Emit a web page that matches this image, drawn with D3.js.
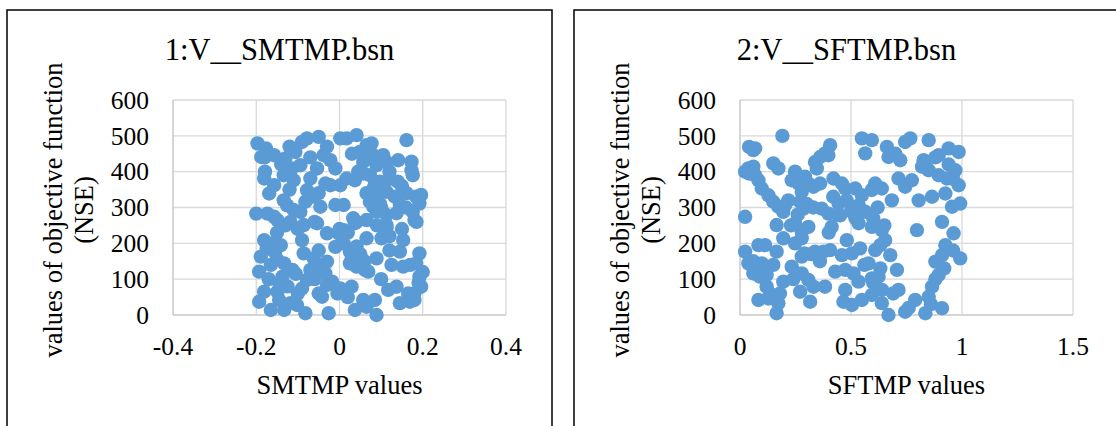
<!DOCTYPE html>
<html>
<head>
<meta charset="utf-8">
<script src="https://cdn.jsdelivr.net/npm/d3@7"></script>
<style>
  html, body { margin: 0; padding: 0; background: #fff; }
  svg text { font-family: "Liberation Serif", "Times New Roman", serif; fill: #000; }
</style>
</head>
<body>
<div id="chart"></div>
<script>
// ---- data ----
const nseTicks = [0, 100, 200, 300, 400, 500, 600];
const smtmpTicks = [-0.4, -0.2, 0, 0.2, 0.4];
const sftmpTicks = [0, 0.5, 1, 1.5];

const titles = ['1:V__SMTMP.bsn', '2:V__SFTMP.bsn'];
const xTitles = ['SMTMP values', 'SFTMP values'];
const yTitle = ['values of objective function', '(NSE)'];

// [parameter value, NSE]
const smtmpPoints = [
  [-0.197,479],[-0.177,465],[-0.188,441],[-0.157,446],[-0.130,437],[-0.179,400],[-0.181,381],[-0.157,362],
  [-0.169,339],[-0.134,320],[-0.126,306],[-0.200,283],[-0.173,283],[-0.157,274],[-0.110,293],[-0.094,288],
  [-0.106,455],[-0.090,483],[-0.078,493],[-0.050,497],[-0.134,390],[-0.114,409],[-0.110,376],[-0.094,418],
  [-0.070,381],[-0.078,348],[-0.082,316],[-0.066,330],[-0.054,409],[-0.038,446],[-0.022,432],[-0.010,409],
  [-0.046,302],[-0.034,367],[-0.022,362],[0.002,362],[0.017,381],[0.037,376],[-0.010,307],[0.010,307],
  [0.033,270],[0.041,260],[0.002,493],[0.017,493],[0.041,502],[0.049,455],[0.065,474],[0.077,479],
  [0.081,446],[0.057,427],[0.077,437],[0.089,418],[0.105,446],[0.113,427],[0.045,400],[0.057,395],
  [0.073,390],[0.161,488],[0.141,432],[0.173,428],[0.173,404],[0.176,390],[0.073,316],[0.081,302],
  [0.089,288],[0.097,311],[0.113,344],[0.133,330],[0.145,307],[0.161,340],[0.184,330],[0.196,335],
  [0.192,311],[0.176,288],[0.180,265],[0.137,284],[0.113,279],[0.085,365],[0.097,372],[0.120,380],
  [0.140,372],[0.150,360],[0.065,340],[0.080,350],[0.090,330],
  [-0.149,265],[-0.118,260],[-0.086,251],[-0.054,256],[0.037,256],[0.065,265],[0.113,251],[0.185,260],
  [-0.181,209],[-0.161,200],[-0.141,195],[-0.090,209],[-0.030,228],[-0.002,228],[0.010,237],[0.065,214],
  [0.041,191],[0.025,177],[0.101,214],[0.113,242],[0.153,209],[0.145,177],[0.192,172],[0.184,144],
  [-0.189,163],[-0.193,121],[-0.165,140],[-0.133,144],[-0.113,126],[-0.137,107],[-0.086,172],[-0.062,158],
  [-0.070,126],[-0.078,98],[-0.046,135],[-0.030,149],[-0.034,116],[0.025,144],[0.041,135],[0.061,126],
  [0.069,121],[0.089,158],[0.125,140],[0.153,135],[0.192,107],[0.196,79],[0.180,60],
  [-0.181,65],[-0.193,37],[-0.149,65],[-0.145,42],[-0.165,14],[-0.133,14],[-0.118,33],[-0.102,28],
  [-0.082,5],[-0.090,74],[-0.050,60],[-0.042,51],[-0.030,84],[-0.018,93],[-0.026,5],[0.002,74],
  [0.017,65],[0.029,79],[0.037,14],[0.057,42],[0.065,23],[0.085,42],[0.089,0],[0.117,70],
  [0.137,79],[0.145,33],[0.169,37],[0.180,42],
  [-0.175,185],[-0.155,175],[-0.150,155],[-0.170,100],[-0.145,90],[-0.125,80],[-0.105,115],[-0.100,60],
  [-0.060,100],[-0.050,180],[-0.010,190],[0.010,200],[0.030,160],[0.050,170],[0.060,150],[0.100,100],
  [0.120,180],[0.170,140],[0.200,120],[0.190,90],[0.165,60],[-0.005,60],[0.020,50],[-0.150,230],
  [-0.130,250],[-0.100,240],[-0.060,260],[0.000,240],[0.020,230],[0.090,250],[0.120,220],[0.150,240],
  [-0.120,470],[-0.140,420],[-0.070,440],[-0.030,470],[0.030,450],[0.120,400],[0.100,300],[0.160,300],
  [-0.120,350],[-0.050,340],[-0.180,440]
];

const sftmpPoints = [
  [0.191,500],[0.041,469],[0.068,465],[0.038,409],[0.060,414],[0.068,390],[0.023,400],[0.083,376],
  [0.098,353],[0.128,334],[0.150,316],[0.173,302],[0.150,423],[0.173,409],[0.248,400],[0.233,376],
  [0.263,367],[0.293,386],[0.308,367],[0.331,358],[0.361,367],[0.338,427],[0.361,441],[0.383,451],
  [0.406,474],[0.398,446],[0.346,409],[0.278,344],[0.271,316],[0.286,297],[0.218,320],[0.203,306],
  [0.195,288],[0.421,381],[0.459,367],[0.474,353],[0.368,297],[0.398,283],[0.444,311],[0.451,278],
  [0.519,353],[0.549,334],[0.534,306],[0.564,288],[0.594,349],[0.609,367],[0.639,353],[0.684,320],
  [0.549,493],[0.594,488],[0.564,451],[0.662,469],[0.669,441],[0.722,432],[0.744,483],[0.767,493],
  [0.850,488],[0.827,432],[0.820,414],[0.850,404],[0.895,446],[0.940,465],[0.985,455],[0.714,381],
  [0.744,358],[0.774,376],[0.895,390],[0.932,381],[0.970,404],[0.985,362],[0.925,339],[0.805,320],
  [0.865,330],[0.955,302],[0.992,311],[0.023,274],
  [0.165,251],[0.248,256],[0.308,246],[0.278,232],[0.413,246],[0.534,256],[0.594,246],[0.639,237],
  [0.654,209],[0.632,195],[0.797,237],[0.910,260],[0.962,228],[0.481,209],
  [0.023,177],[0.083,195],[0.113,195],[0.165,177],[0.195,214],[0.248,200],[0.278,214],[0.338,177],
  [0.376,177],[0.406,181],[0.459,167],[0.504,172],[0.541,186],[0.609,181],[0.677,167],[0.278,163],
  [0.038,144],[0.060,116],[0.098,144],[0.150,140],[0.120,112],[0.233,135],[0.278,116],[0.308,98],
  [0.195,93],[0.331,79],[0.383,79],[0.271,65],[0.316,37],[0.429,121],[0.474,126],[0.511,116],
  [0.534,93],[0.579,144],[0.594,102],[0.632,130],[0.624,107],[0.707,126],[0.880,149],[0.925,195],
  [0.895,112],[0.865,79],[0.850,51],[0.910,167],[0.992,158],[0.083,42],[0.128,46],[0.173,33],
  [0.165,5],[0.474,70],[0.466,37],[0.504,28],[0.549,42],[0.594,56],[0.639,33],[0.669,0],
  [0.714,70],[0.744,9],[0.789,42],[0.835,5],[0.910,19],
  [0.060,150],[0.090,107],[0.120,79],[0.135,60],[0.290,172],[0.320,170],[0.230,250],[0.260,280],
  [0.300,310],[0.330,300],[0.420,330],[0.480,320],[0.500,290],[0.520,270],[0.600,270],[0.620,300],
  [0.650,250],[0.560,140],[0.600,90],[0.640,70],[0.690,60],[0.760,20],[0.880,100],[0.920,130],
  [0.960,180],[0.940,420],[0.960,380],[0.880,440],[0.840,410],[0.180,60],[0.240,100],[0.360,150],
  [0.400,230],[0.440,280],[0.700,450],[0.860,30],[0.060,460],[0.040,395]
];

// ---- layout ----
const W = 1116, H = 426;
const panelW = 545;
const panels = [
  { left: 7,   title: titles[0], xTitle: xTitles[0], ticks: smtmpTicks, domain: [-0.4, 0.4], points: smtmpPoints },
  { left: 574, title: titles[1], xTitle: xTitles[1], ticks: sftmpTicks, domain: [0, 1.5],   points: sftmpPoints }
];
const plot = { left: 166, width: 333, top: 100, bottom: 315 };
const dotColor = '#5b9bd5';

const svg = d3.select('#chart').append('svg')
  .attr('width', W)
  .attr('height', H);

panels.forEach(p => {
  const g = svg.append('g').attr('transform', `translate(${p.left},0)`);

  // chart border (bottom/right run off the picture)
  g.append('rect')
    .attr('x', 0).attr('y', 10)
    .attr('width', panelW).attr('height', 500)
    .attr('fill', '#fff')
    .attr('stroke', '#000')
    .attr('stroke-width', 1.5);

  const x = d3.scaleLinear().domain(p.domain).range([plot.left, plot.left + plot.width]);
  const y = d3.scaleLinear().domain([0, 600]).range([plot.bottom, plot.top]);

  // gridlines
  g.append('g').selectAll('line.h')
    .data(nseTicks.slice(1))
    .join('line')
    .attr('x1', x.range()[0]).attr('x2', x.range()[1])
    .attr('y1', d => y(d)).attr('y2', d => y(d))
    .attr('stroke', '#d9d9d9').attr('stroke-width', 1.3);

  g.append('g').selectAll('line.v')
    .data(p.ticks.slice(1))
    .join('line')
    .attr('x1', d => x(d)).attr('x2', d => x(d))
    .attr('y1', y(0)).attr('y2', y(600))
    .attr('stroke', '#d9d9d9').attr('stroke-width', 1.3);

  // axis lines
  g.append('line')
    .attr('x1', x.range()[0]).attr('x2', x.range()[1])
    .attr('y1', y(0)).attr('y2', y(0))
    .attr('stroke', '#c8c8c8').attr('stroke-width', 1.5);
  g.append('line')
    .attr('x1', x.range()[0]).attr('x2', x.range()[0])
    .attr('y1', y(0)).attr('y2', y(600))
    .attr('stroke', '#c8c8c8').attr('stroke-width', 1.5);

  // tick labels
  g.append('g').selectAll('text')
    .data(nseTicks)
    .join('text')
    .attr('x', plot.left - 24)
    .attr('y', d => y(d))
    .attr('dy', '0.34em')
    .attr('text-anchor', 'end')
    .style('font-size', '25.5px')
    .text(d => d);

  g.append('g').selectAll('text')
    .data(p.ticks)
    .join('text')
    .attr('x', d => x(d))
    .attr('y', 355)
    .attr('text-anchor', 'middle')
    .style('font-size', '25.5px')
    .text(d => d);

  // dots
  g.append('g').selectAll('circle')
    .data(p.points)
    .join('circle')
    .attr('cx', d => x(d[0]))
    .attr('cy', d => y(d[1]))
    .attr('r', 7.2)
    .attr('fill', dotColor);

  // titles
  g.append('text')
    .attr('x', panelW / 2)
    .attr('y', 60)
    .attr('text-anchor', 'middle')
    .style('font-size', '30.5px')
    .text(p.title);

  g.append('text')
    .attr('x', plot.left + plot.width / 2)
    .attr('y', 394)
    .attr('text-anchor', 'middle')
    .style('font-size', '26.5px')
    .text(p.xTitle);

  yTitle.forEach((t, i) => {
    g.append('text')
      .attr('transform', `translate(${55 + i * 31},210) rotate(-90)`)
      .attr('text-anchor', 'middle')
      .style('font-size', '26.5px')
      .text(t);
  });
});
</script>
</body>
</html>
